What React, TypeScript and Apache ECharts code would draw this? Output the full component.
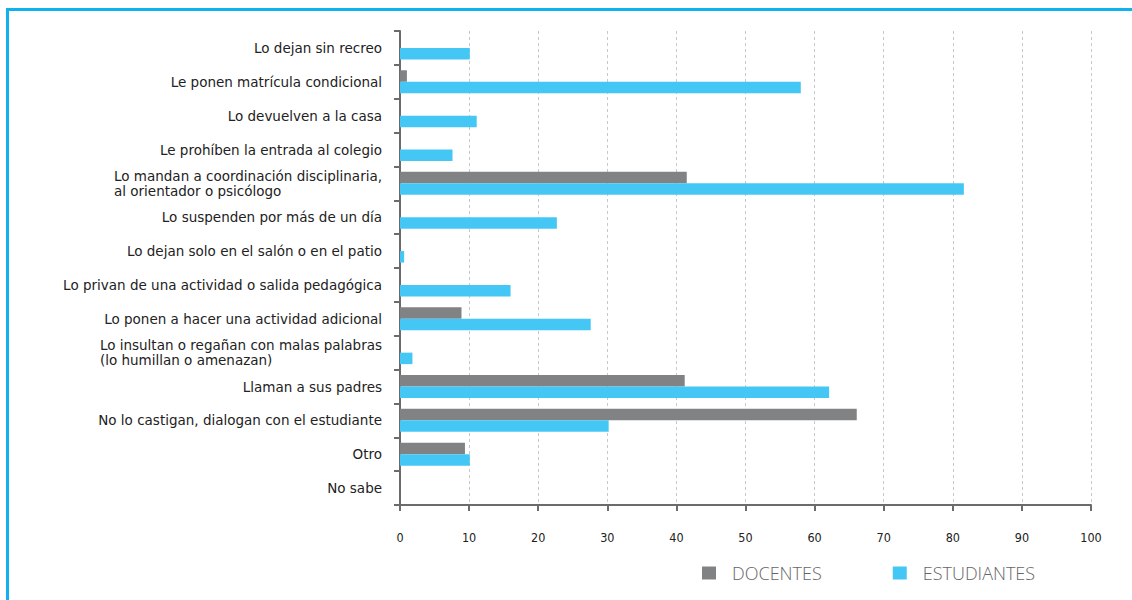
import React, { useEffect, useRef } from "react";
import * as echarts from "echarts";

const categories: string[] = [
  "Lo dejan sin recreo",
  "Le ponen matrícula condicional",
  "Lo devuelven a la casa",
  "Le prohíben la entrada al colegio",
  "Lo mandan a coordinación disciplinaria,\nal orientador o psicólogo",
  "Lo suspenden por más de un día",
  "Lo dejan solo en el salón o en el patio",
  "Lo privan de una actividad o salida pedagógica",
  "Lo ponen a hacer una actividad adicional",
  "Lo insultan o regañan con malas palabras\n(lo humillan o amenazan)",
  "Llaman a sus padres",
  "No lo castigan, dialogan con el estudiante",
  "Otro",
  "No sabe",
];

const docentes: number[] = [0, 1.0, 0, 0, 41.5, 0, 0, 0, 8.9, 0, 41.2, 66.1, 9.4, 0];
const estudiantes: number[] = [10.1, 58.0, 11.1, 7.6, 81.6, 22.7, 0.6, 16.0, 27.6, 1.8, 62.1, 30.2, 10.1, 0];

const xTicks: number[] = [0, 10, 20, 30, 40, 50, 60, 70, 80, 90, 100];

const App: React.FC = () => {
  const ref = useRef<HTMLDivElement>(null);

  useEffect(() => {
    if (!ref.current) return;
    const chart = echarts.init(ref.current, undefined, { renderer: "svg" });
    chart.setOption({
      animation: false,
      backgroundColor: "#ffffff",
      grid: { left: 400, right: 41, top: 31, bottom: 95, containLabel: false },
      legend: {
        left: 697,
        top: 559,
        itemWidth: 14,
        itemHeight: 13,
        itemGap: 71,
        icon: "rect",
        textStyle: {
          fontFamily: "Open Sans",
          fontSize: 18,
          fontWeight: 300,
          color: "#666666",
          padding: [0, 0, 0, 11],
        },
        data: ["DOCENTES", "ESTUDIANTES"],
      },
      graphic: [
        { type: "rect", shape: { x: 6, y: 8, width: 1126, height: 3 }, style: { fill: "#0fb2ee" }, silent: true },
        { type: "rect", shape: { x: 6, y: 8, width: 3, height: 592 }, style: { fill: "#0fb2ee" }, silent: true },
      ],
      xAxis: {
        type: "value",
        min: 0,
        max: 100,
        interval: 10,
        axisLine: { show: true, lineStyle: { color: "#6b6b6b", width: 2 } },
        axisTick: { show: true, length: 6, lineStyle: { color: "#6b6b6b", width: 2 } },
        axisLabel: {
          margin: 26,
          fontFamily: "DejaVu Sans Condensed",
          fontSize: 12.5,
          color: "#222222",
          formatter: (v: number) => (xTicks.includes(v) ? String(v) : ""),
        },
        splitLine: { show: true, lineStyle: { color: "#c8c8c8", type: [3, 3], width: 1 } },
      },
      yAxis: {
        type: "category",
        inverse: true,
        data: categories,
        axisLine: { show: true, lineStyle: { color: "#6b6b6b", width: 2 } },
        axisTick: { show: true, length: 6, lineStyle: { color: "#6b6b6b", width: 2 } },
        axisLabel: {
          margin: 18,
          align: "right",
          formatter: (v: string) => v.split("\n").map((l) => `{a|${l}}`).join("\n"),
          rich: {
            a: {
              align: "left",
              fontFamily: "DejaVu Sans",
              fontSize: 13.5,
              lineHeight: 14.5,
              color: "#222222",
            },
          },
        },
        splitLine: { show: false },
      },
      series: [
        {
          name: "DOCENTES",
          type: "bar",
          data: docentes,
          barGap: "0%",
          barCategoryGap: "32%",
          itemStyle: { color: "#818284" },
        },
        {
          name: "ESTUDIANTES",
          type: "bar",
          data: estudiantes,
          barGap: "0%",
          barCategoryGap: "32%",
          itemStyle: { color: "#44c7f4" },
        },
      ],
    });
    return () => chart.dispose();
  }, []);

  return (
    <div
      ref={ref}
      style={{ position: "absolute", left: 0, top: 0, width: 1132, height: 600 }}
    />
  );
};

export default App;
